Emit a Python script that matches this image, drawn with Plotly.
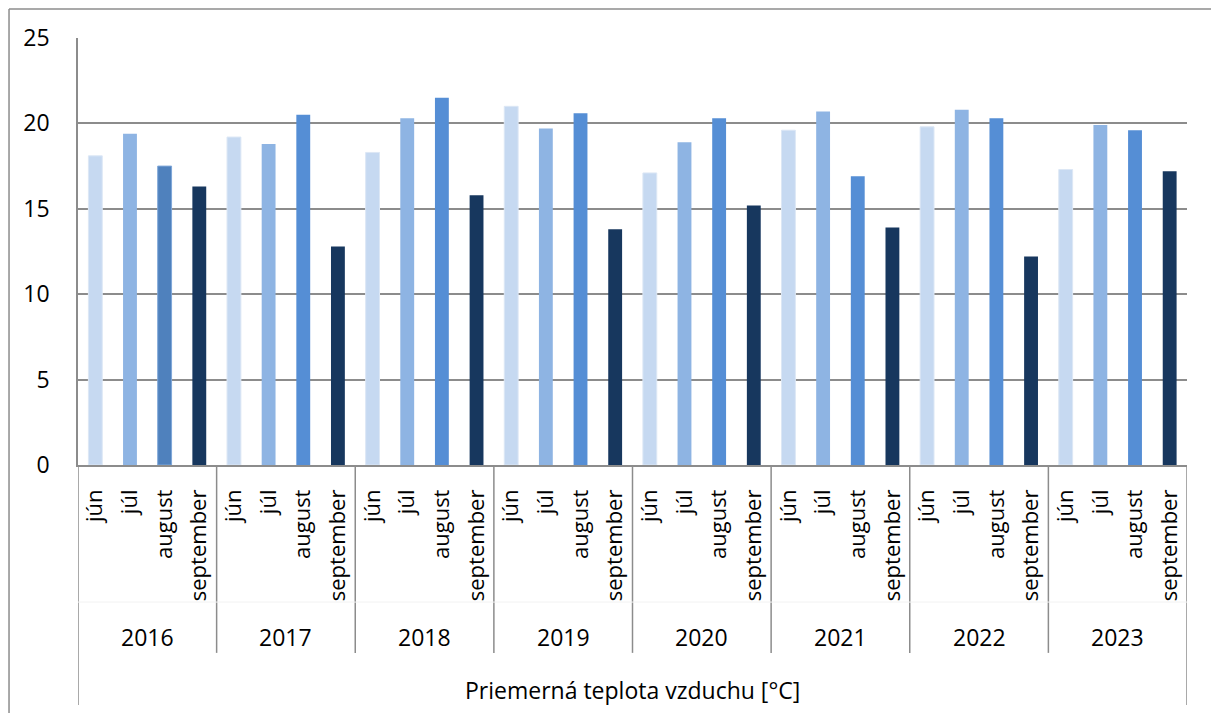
import plotly.graph_objects as go

years = ["2016", "2017", "2018", "2019", "2020", "2021", "2022", "2023"]
months = ["jún", "júl", "august", "september"]

jun_vals = [18.1, 19.2, 18.3, 21.0, 17.1, 19.6, 19.8, 17.3]
jul_vals = [19.4, 18.8, 20.3, 19.7, 18.9, 20.7, 20.8, 19.9]
aug_vals = [17.5, 20.5, 21.5, 20.6, 20.3, 16.9, 20.3, 19.6]
sep_vals = [16.3, 12.8, 15.8, 13.8, 15.2, 13.9, 12.2, 17.2]

series = [jun_vals, jul_vals, aug_vals, sep_vals]
colors = ["#C6D9F1", "#8EB4E3", "#558ED5", "#17375E"]

axis_title = "Priemerná teplota vzduchu [°C]"

FONT = "Open Sans"
FS = 22
FS_BIG = 23
GRID = "#8c8c8c"

cats = [f"{y} {m}" for y in years for m in months]
tick_text = [m for y in years for m in months]

fig = go.Figure()
for mi, (m, vals, col) in enumerate(zip(months, series, colors)):
    xs = [f"{y} {m}" for y in years]
    bar_colors = [col] * len(years)
    line_colors = [col] * len(years)
    line_widths = [0] * len(years)
    if m == "august":
        bar_colors[0] = "#4F81BD"
        line_colors[0] = "#7EA6D8"
        line_widths[0] = 1
    if m == "jún":
        line_colors = ["#DCE7F5"] * len(years)
        line_widths = [1] * len(years)
    fig.add_trace(go.Bar(
        x=xs, y=vals, name=m, width=0.4,
        marker=dict(color=bar_colors, line=dict(color=line_colors, width=line_widths)),
        showlegend=False,
    ))

shapes = []
n = len(cats)
# inner dividers between years
for k in range(1, len(years)):
    xb = k * len(months) - 0.5
    shapes.append(dict(type="line", xref="x", yref="paper", x0=xb, x1=xb,
                       y0=0, y1=-0.440, line=dict(color=GRID, width=1.5)))
# outer dividers
for xb in (-0.5, n - 0.5):
    shapes.append(dict(type="line", xref="x", yref="paper", x0=xb, x1=xb,
                       y0=0, y1=-0.562, line=dict(color=GRID, width=1.5)))
# faint separator between month and year levels
shapes.append(dict(type="line", xref="x", yref="paper", x0=-0.5, x1=n - 0.5,
                   y0=-0.321, y1=-0.321, line=dict(color="#f2f2f2", width=1)))
# outer chart border (left and top)
shapes.append(dict(type="line", xref="paper", yref="paper", x0=-0.0622, x1=-0.0622,
                   y0=1.068, y1=-0.62, line=dict(color=GRID, width=1.5)))
shapes.append(dict(type="line", xref="paper", yref="paper", x0=-0.0622, x1=1.03,
                   y0=1.068, y1=1.068, line=dict(color=GRID, width=1.5)))

annotations = []
for k, y in enumerate(years):
    annotations.append(dict(x=k * len(months) + 1.5, y=-0.403, xref="x", yref="paper",
                            text=y, showarrow=False, yanchor="middle", xanchor="center",
                            font=dict(family=FONT, size=FS_BIG, color="black")))
annotations.append(dict(x=0.5, y=-0.527, xref="paper", yref="paper", text=axis_title,
                        showarrow=False, yanchor="middle", xanchor="center",
                        font=dict(family=FONT, size=FS_BIG, color="black")))

fig.update_layout(
    width=1211, height=713,
    margin=dict(l=78, r=24, t=38, b=248),
    paper_bgcolor="white", plot_bgcolor="white",
    barmode="overlay",
    font=dict(family=FONT, size=FS, color="black"),
    shapes=shapes, annotations=annotations,
    xaxis=dict(
        type="category", categoryorder="array", categoryarray=cats,
        tickvals=cats, ticktext=tick_text, tickangle=-90,
        range=[-0.5, n - 0.5], showgrid=False, zeroline=False,
        showline=True, linecolor=GRID, linewidth=1.5, ticks="",
        ticklabelstandoff=14,
        tickfont=dict(family=FONT, size=FS, color="black"),
    ),
    yaxis=dict(
        range=[0, 25], dtick=5, tick0=0, showgrid=True, gridcolor=GRID, gridwidth=1.5,
        zeroline=False, showline=True, linecolor=GRID, linewidth=1.5, ticks="",
        ticklabelstandoff=22,
        tickfont=dict(family=FONT, size=FS_BIG, color="black"),
    ),
)

fig.write_html("out.html")
